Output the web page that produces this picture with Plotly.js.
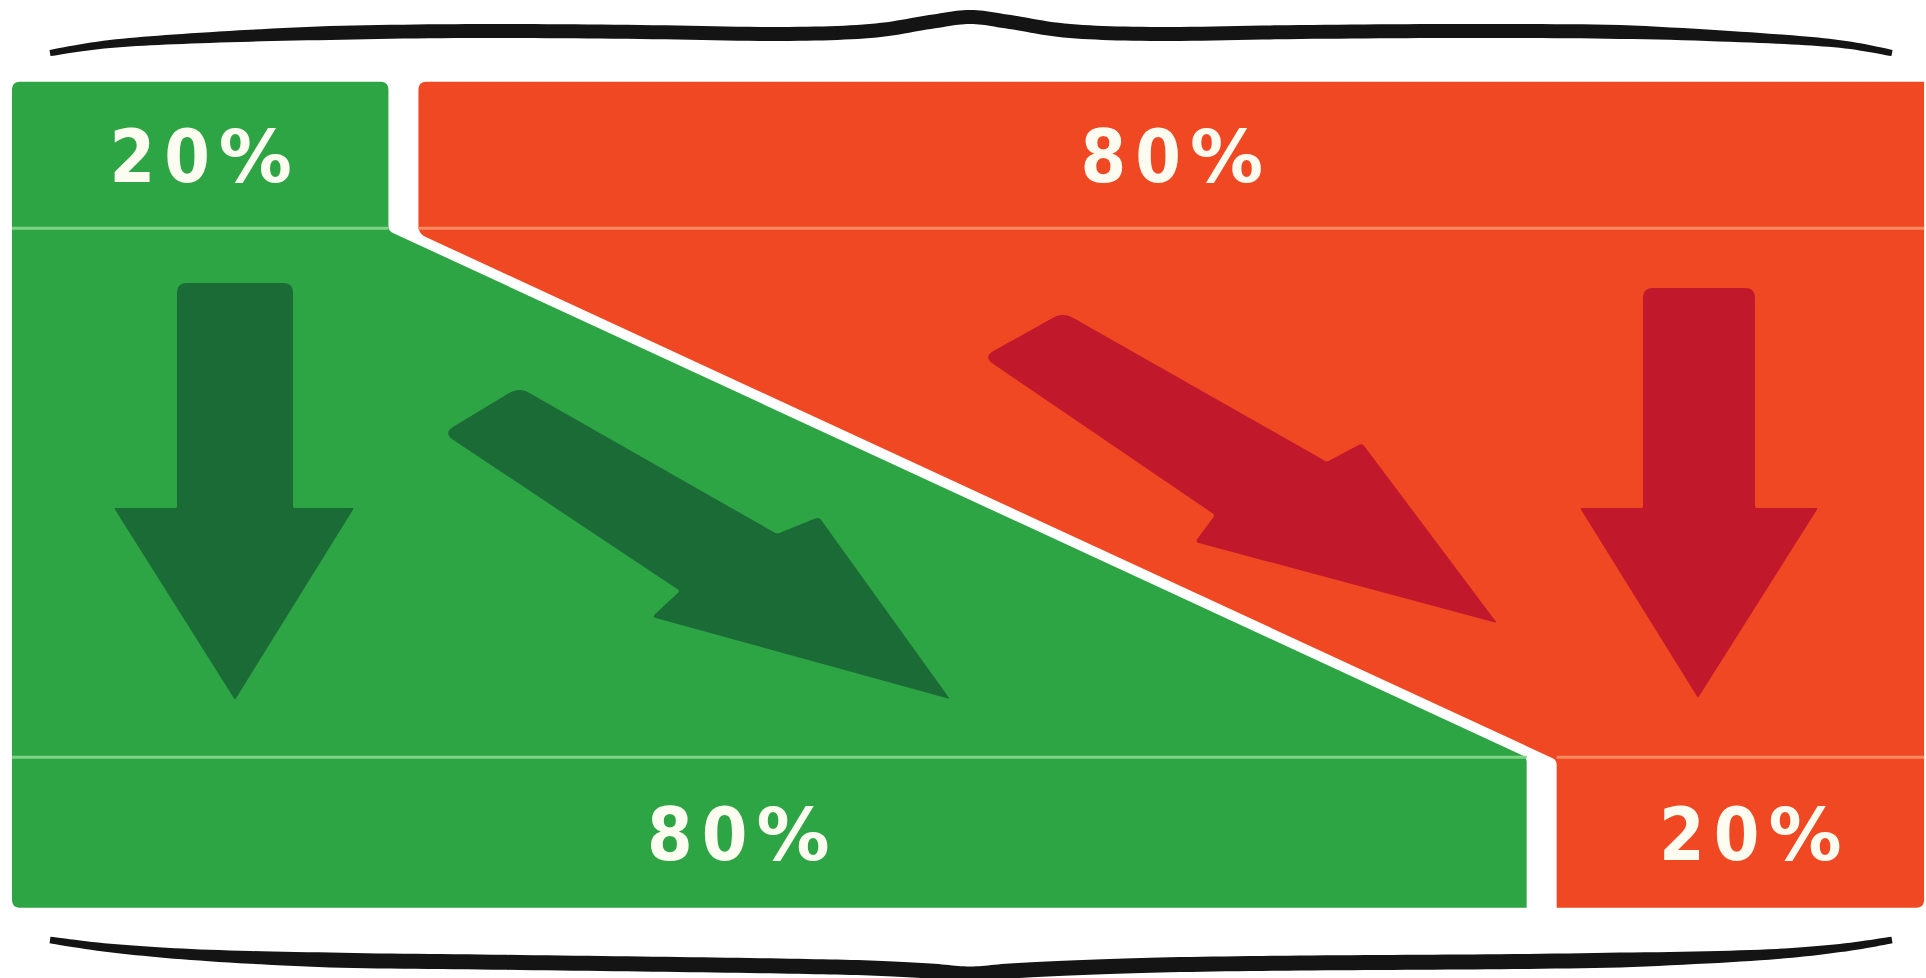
<!DOCTYPE html>
<html><head><meta charset="utf-8">
<script src="https://cdn.plot.ly/plotly-3.0.1.min.js"></script>
<style>
html,body{margin:0;padding:0;background:#fff;overflow:hidden}
#chart{width:1926px;height:978px}
#chart .textpoint text{letter-spacing:9px}
</style></head><body><div id="chart"></div>
<script>
// ---------- DATA ----------
const rows = ["top", "bottom"];          // row order, top to bottom
const greenShare = [20, 80];             // green share of each row (%)
const orangeShare = [80, 20];            // orange share of each row (%)
const greenLabels = greenShare.map(v => v + "%");
const orangeLabels = orangeShare.map(v => v + "%");

// ---------- STYLE ----------
const W = 1926, H = 978;
const XR0 = -0.628, XR1 = 100.1;         // x axis range (share units)
const YR0 = -0.2288, YR1 = 1.2148;       // y axis range (row units), drawn reversed
const C = {
  green: "#2ea544", greenLine: "#7fd384", greenArrow: "#1b6b37",
  orange: "#f04822", orangeLine: "#f98a62", redArrow: "#c2182c",
  text: "#fcfcf0", brace: "#141414"
};
const rowHalf = [0.108, 0.111];
const gapPx = 15;
const splitNudgePx = [9, 0];
const labelNudgePx = [[2, 9], [17, 9], [-34, 9], [22, 9]];

const sx = (XR1 - XR0) / W, sy = (YR1 - YR0) / H;
const toPx = p => [(p[0] - XR0) / sx, (p[1] - YR0) / sy];
const toData = p => [XR0 + p[0] * sx, YR0 + p[1] * sy];
const g = gapPx * sx;

function roundPoly(pts, radii) {
  const out = [];
  const n = pts.length;
  for (let i = 0; i < n; i++) {
    const P = pts[i], r = radii[i];
    if (!r) { out.push(P); continue; }
    const A = pts[(i - 1 + n) % n], B = pts[(i + 1) % n];
    const la = Math.hypot(A[0] - P[0], A[1] - P[1]), lb = Math.hypot(B[0] - P[0], B[1] - P[1]);
    const ra = Math.min(r, la / 2), rb = Math.min(r, lb / 2);
    const p1 = [P[0] + (A[0] - P[0]) * ra / la, P[1] + (A[1] - P[1]) * ra / la];
    const p2 = [P[0] + (B[0] - P[0]) * rb / lb, P[1] + (B[1] - P[1]) * rb / lb];
    for (let k = 0; k <= 6; k++) {
      const t = k / 6, u = 1 - t;
      out.push([u*u*p1[0] + 2*u*t*P[0] + t*t*p2[0], u*u*p1[1] + 2*u*t*P[1] + t*t*p2[1]]);
    }
  }
  return out;
}
function polyTrace(ptsPx, color) {
  const d = ptsPx.map(toData);
  d.push(d[0]);
  return {type: "scatter", mode: "lines", x: d.map(p => p[0]), y: d.map(p => p[1]),
    fill: "toself", fillcolor: color, line: {width: 0, color: color, simplify: false}, hoverinfo: "skip"};
}

// row edges (y in row units)
const yTop = 0 - rowHalf[0], line1 = 0 + rowHalf[0];
const line2 = 1 - rowHalf[1], yBot = 1 + rowHalf[1];
const s0 = greenShare[0] + splitNudgePx[0] * sx, s1 = greenShare[1] + splitNudgePx[1] * sx;

const traces = [];
// green region
const greenPoly = [[0, yTop], [s0 - g, yTop], [s0 - g, line1 + 0.004], [s1 - g, line2], [s1 - g, yBot], [0, yBot]].map(toPx);
traces.push(polyTrace(roundPoly(greenPoly, [8, 8, 5, 5, 0, 8]), C.green));
// orange region
const orangePoly = [[s0 + g, yTop], [100, yTop], [100, yBot], [s1 + g, yBot], [s1 + g, line2 + 0.004], [s0 + g, line1 + 0.008]].map(toPx);
traces.push(polyTrace(roundPoly(orangePoly, [8, 0, 8, 0, 5, 8]), C.orange));

// thin light lines at row boundaries
function hline(x0, x1, y, color) {
  return {type: "scatter", mode: "lines", x: [x0, x1], y: [y, y], line: {color: color, width: 3}, hoverinfo: "skip"};
}
traces.push(hline(0, s0 - g, line1, C.greenLine));
traces.push(hline(0, s1 - g, line2, C.greenLine));
traces.push(hline(s0 + g, 100, line1, C.orangeLine));
traces.push(hline(s1 + g, 100, line2, C.orangeLine));

// arrows (decoration): outline corners in figure pixels, converted to axis units
const arrowShapes = [
  {c: C.greenArrow, pts: [[177, 283], [293, 283], [293, 508], [354, 508], [235, 700], [114, 508], [177, 508]], r: [10, 10, 2, 2, 2, 2, 2]},
  {c: C.greenArrow, pts: [[519, 387], [777, 534], [819, 517], [950, 699], [652, 617], [680, 591], [443, 433]], r: [12, 3, 4, 2, 4, 3, 12]},
  {c: C.redArrow, pts: [[1063, 312], [1327, 462], [1362, 443], [1497, 623], [1195, 542], [1215, 515], [983, 357]], r: [12, 3, 4, 2, 4, 3, 12]},
  {c: C.redArrow, pts: [[1643, 288], [1755, 288], [1755, 508], [1818, 508], [1698, 698], [1580, 508], [1643, 508]], r: [10, 10, 2, 2, 2, 2, 2]}
];
arrowShapes.forEach(a => traces.push(polyTrace(roundPoly(a.pts, a.r), a.c)));

// braces (decoration): smooth tapered strokes
function catmull(pts, steps) {
  const out = [];
  for (let i = 0; i < pts.length - 1; i++) {
    const p0 = pts[Math.max(i - 1, 0)], p1 = pts[i], p2 = pts[i + 1], p3 = pts[Math.min(i + 2, pts.length - 1)];
    for (let k = 0; k < steps; k++) {
      const t = k / steps, t2 = t * t, t3 = t2 * t;
      const f = j => 0.5 * ((2 * p1[j]) + (-p0[j] + p2[j]) * t + (2 * p0[j] - 5 * p1[j] + 4 * p2[j] - p3[j]) * t2 + (-p0[j] + 3 * p1[j] - 3 * p2[j] + p3[j]) * t3);
      out.push([f(0), f(1)]);
    }
  }
  out.push(pts[pts.length - 1]);
  return out;
}
function brace(xs, ys, thick, color) {
  const c = catmull(xs.map((x, i) => [x, ys[i]]), 12);
  const x0 = c[0][0], x1 = c[c.length - 1][0];
  const up = [], lo = [];
  c.forEach((p, i) => {
    const a = c[Math.max(i - 1, 0)], b = c[Math.min(i + 1, c.length - 1)];
    let nx = -(b[1] - a[1]), ny = b[0] - a[0];
    const l = Math.hypot(nx, ny) || 1; nx /= l; ny /= l;
    const t = (p[0] - x0) / (x1 - x0);
    const w = thick * Math.min(1, 0.45 + 0.55 * Math.min(t, 1 - t) / 0.15) / 2;
    up.push([p[0] + nx * w, p[1] + ny * w]);
    lo.push([p[0] - nx * w, p[1] - ny * w]);
  });
  return polyTrace(up.concat(lo.reverse()), color);
}
const braceX = [50, 110, 200, 330, 480, 640, 780, 870, 930, 970, 1010, 1070, 1160, 1300, 1460, 1620, 1760, 1840, 1892];
traces.push(brace(braceX, [53, 44, 38, 33, 31, 32, 34, 31, 22, 17, 22, 31, 34, 32, 31, 32, 38, 44, 53], 14, C.brace));
traces.push(brace(braceX, [940, 948, 955, 960, 962, 964, 966, 968, 971, 974, 971, 968, 965, 963, 962, 960, 955, 948, 940], 15, C.brace));

// percentage labels
const pct = s => s.replace("%", '<span style="font-family:DejaVu Sans">%</span>');
const labX = [greenShare[0] / 2, greenShare[0] + orangeShare[0] / 2, greenShare[1] / 2, greenShare[1] + orangeShare[1] / 2]
  .map((v, i) => v + labelNudgePx[i][0] * sx);
const labY = [0, 0, 1, 1].map((v, i) => v + labelNudgePx[i][1] * sy);
traces.push({
  type: "scatter", mode: "text",
  x: labX, y: labY,
  text: [greenLabels[0], orangeLabels[0], greenLabels[1], orangeLabels[1]].map(pct),
  textposition: "middle center",
  textfont: {family: "DejaVu Sans Condensed, DejaVu Sans, sans-serif", size: 73, weight: "bold", color: C.text},
  hoverinfo: "skip"
});

const layout = {
  width: W, height: H, margin: {l: 0, r: 0, t: 0, b: 0},
  paper_bgcolor: "#ffffff", plot_bgcolor: "#ffffff", showlegend: false,
  xaxis: {range: [XR0, XR1], visible: false, fixedrange: true},
  yaxis: {range: [YR1, YR0], visible: false, fixedrange: true}
};
Plotly.newPlot("chart", traces, layout, {staticPlot: true, displayModeBar: false});
</script></body></html>
